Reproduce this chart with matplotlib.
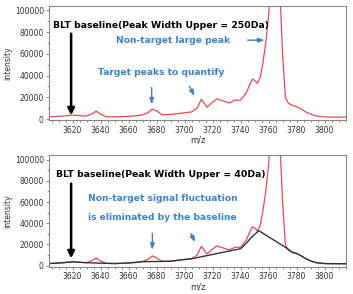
import numpy as np
import matplotlib.pyplot as plt
from matplotlib.ticker import MultipleLocator

# spectrum (m/z, intensity)
mz = [3603.5, 3610, 3615, 3620, 3625, 3630, 3634, 3637, 3640, 3644, 3650, 3655,
      3660, 3665, 3670, 3674, 3677, 3680, 3684, 3690, 3695, 3700, 3705, 3709,
      3712, 3716, 3720, 3723, 3727, 3732, 3736, 3740, 3744, 3746, 3748.5, 3750,
      3752, 3754, 3756, 3758, 3760, 3762, 3765, 3768, 3770, 3772, 3774, 3777,
      3780, 3783, 3786, 3790, 3794, 3800, 3805, 3815.5]
inten = [2000, 2500, 3000, 3600, 3200, 2800, 5000, 7300, 4500, 2200, 2000, 2200,
         2500, 3000, 3800, 6000, 9200, 7500, 4000, 4200, 5000, 5800, 6500, 10000,
         18300, 11000, 15500, 18600, 17000, 14700, 17400, 17400, 24000, 30000, 36700, 35500,
         33000, 38000, 52000, 70000, 95000, 130000, 160000, 120000, 60000, 20000, 14700, 12500,
         11500, 9500, 7000, 4500, 2800, 2000, 1800, 1800]

# baseline for the 40Da setting
base_mz = [3603.5, 3610, 3615, 3620, 3625, 3630, 3644, 3650, 3660, 3670, 3684,
           3690, 3700, 3705, 3740, 3744, 3748, 3753, 3773, 3777, 3780, 3783,
           3786, 3790, 3794, 3800, 3815.5]
base_int = [2000, 2500, 3000, 3500, 3200, 2800, 2200, 2000, 2500, 3800, 4000,
            4200, 5800, 6500, 16000, 21000, 27000, 33000, 16500, 12500, 11500, 9500,
            7000, 4500, 2800, 2000, 1800]

red = "#ec4a4f"
blue = "#3a84d2"
arrow_blue = "#4a7cbf"

fig = plt.figure(figsize=(3.53, 2.94), dpi=100)
ax1 = fig.add_axes([0.14, 0.592, 0.841, 0.388])
ax2 = fig.add_axes([0.14, 0.0935, 0.841, 0.378])

for ax in (ax1, ax2):
    ax.plot(mz, inten, color=red, lw=0.9)
    ax.set_xlim(3603.5, 3815.5)
    ax.set_ylim(-800, 104000)
    ax.set_xticks([3620, 3640, 3660, 3680, 3700, 3720, 3740, 3760, 3780, 3800])
    ax.set_yticks([0, 20000, 40000, 60000, 80000, 100000])
    ax.xaxis.set_minor_locator(MultipleLocator(5))
    ax.yaxis.set_minor_locator(MultipleLocator(10000))
    ax.tick_params(which="both", direction="out", color="#777777", labelcolor="#333333",
                   labelsize=5.5, length=2.5, width=0.6, pad=1.5)
    ax.tick_params(which="minor", length=1.5)
    for s in ax.spines.values():
        s.set_color("#888888")
        s.set_linewidth(0.8)
    ax.set_xlabel("m/z", fontsize=6, color="#333333", labelpad=1)
    ax.set_ylabel("intensity", fontsize=5.5, color="#333333", labelpad=2)

ax2.plot(base_mz, base_int, color="#333333", lw=1.0)

blk_arrow = dict(arrowstyle="-|>,head_width=0.2,head_length=0.4", color="black", lw=1.8)
blu_arrow = dict(arrowstyle="-|>,head_width=0.13,head_length=0.35", color=arrow_blue, lw=1.0)

# top panel text
ax1.text(3606, 86000, "BLT baseline(Peak Width Upper = 250Da)", fontsize=6.7,
         fontweight="bold", color="black", va="center")
ax1.text(3651, 72500, "Non-target large peak", fontsize=6.6, fontweight="bold",
         color=blue, va="center")
ax1.text(3638, 43000, "Target peaks to quantify", fontsize=6.6, fontweight="bold",
         color=blue, va="center")
ax1.annotate("", xy=(3619, 900), xytext=(3619, 81000), arrowprops=blk_arrow)
ax1.annotate("", xy=(3759, 72500), xytext=(3743, 72500), arrowprops=blu_arrow)
ax1.annotate("", xy=(3676.5, 11000), xytext=(3676.5, 31500), arrowprops=blu_arrow)
ax1.annotate("", xy=(3708, 19000), xytext=(3702.5, 32500), arrowprops=blu_arrow)

# bottom panel text
ax2.text(3608, 86000, "BLT baseline(Peak Width Upper = 40Da)", fontsize=6.7,
         fontweight="bold", color="black", va="center")
ax2.text(3631, 63000, "Non-target signal fluctuation", fontsize=6.6, fontweight="bold",
         color=blue, va="center")
ax2.text(3631, 45500, "is eliminated by the baseline", fontsize=6.6, fontweight="bold",
         color=blue, va="center")
ax2.annotate("", xy=(3619, 4300), xytext=(3619, 80000), arrowprops=blk_arrow)
ax2.annotate("", xy=(3677, 12500), xytext=(3677, 33000), arrowprops=blu_arrow)
ax2.annotate("", xy=(3708.5, 20000), xytext=(3703.5, 32500), arrowprops=blu_arrow)

fig.savefig("out.png", dpi=100)
